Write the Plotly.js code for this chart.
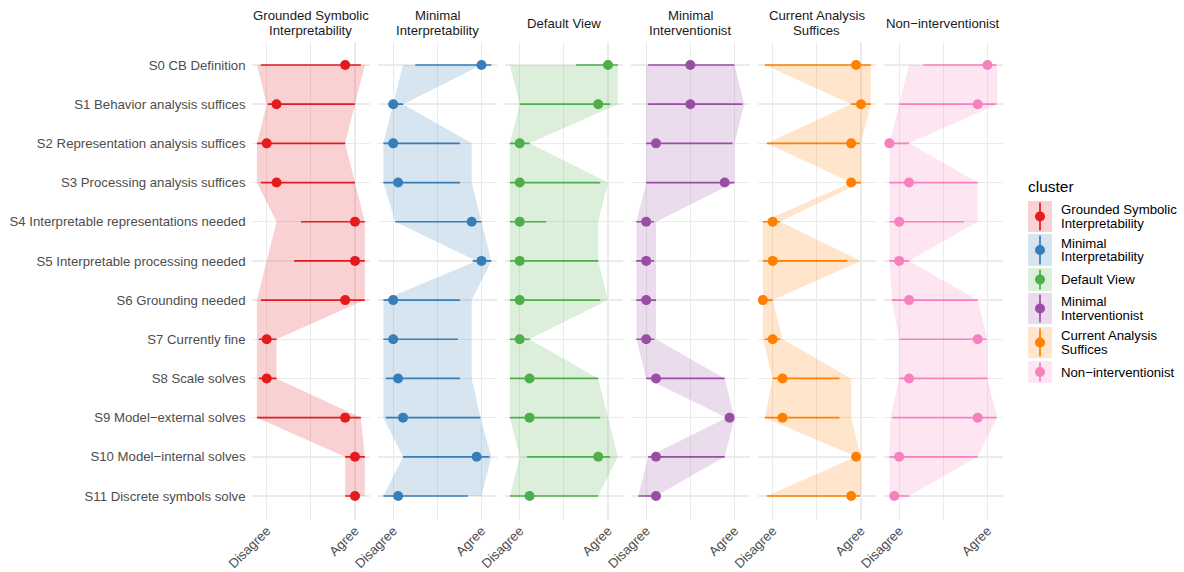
<!DOCTYPE html>
<html>
<head>
<meta charset="utf-8">
<script src="https://cdn.plot.ly/plotly-3.0.1.min.js"></script>
<style>html,body{margin:0;padding:0;background:#fff;}#chart{width:1184px;height:572px;}</style>
</head>
<body>
<div id="chart"></div>
<script>
// ---- data ----
const statements = ["S0 CB Definition", "S1 Behavior analysis suffices", "S2 Representation analysis suffices",
  "S3 Processing analysis suffices", "S4 Interpretable representations needed", "S5 Interpretable processing needed",
  "S6 Grounding needed", "S7 Currently fine", "S8 Scale solves", "S9 Model\u2212external solves",
  "S10 Model\u2212internal solves", "S11 Discrete symbols solve"];
const clusterNames = ["Grounded Symbolic Interpretability", "Minimal Interpretability", "Default View",
  "Minimal Interventionist", "Current Analysis Suffices", "Non\u2212interventionist"];
const clusterLabels = [["Grounded Symbolic", "Interpretability"], ["Minimal", "Interpretability"], ["Default View"],
  ["Minimal", "Interventionist"], ["Current Analysis", "Suffices"], ["Non\u2212interventionist"]];
const clusterColors = ["#E41A1C", "#377EB8", "#4DAF4A", "#984EA3", "#FF7F00", "#F781BF"];
const xTickVals = [0, 9];
const xTickText = ["Disagree", "Agree"];

// Grounded Symbolic Interpretability
const gsiPoint = [8, 1, 0, 1, 9, 9, 8, 0, 0, 8, 9, 9];
const gsiErrLo = [-0.6, 0.1, -1, -0.6, 3.5, 2.8, -0.6, -0.8, -0.8, -1, 8, 8];
const gsiErrHi = [9.6, 9, 8, 9, 10, 10, 10, 1, 1, 9.6, 10, 9.5];
const gsiRibLo = [-1, 0, -1, -1, 1, 0, -1, -1, -1, -1, 8, 8];
const gsiRibHi = [10, 9, 8, 9, 10, 10, 10, 1, 1, 9.6, 10, 10];
// Minimal Interpretability
const miPoint = [9, 0, 0, 0.5, 8, 9, 0, 0, 0.5, 1, 8.5, 0.5];
const miErrLo = [2.25, -0.5, -1, -1, 0.2, 8.1, -1, -1, -0.75, -0.75, 1, -1];
const miErrHi = [10, 1, 6.8, 6.8, 9, 10, 6.8, 6.6, 6.8, 8.9, 9.8, 7.6];
const miRibLo = [1, 0, -1, -1, 0.2, 8.5, -1, -1, -1, -1, 1, -1];
const miRibHi = [9, 1, 8, 8, 9, 10, 8, 8, 8, 8.9, 10, 9];
// Default View
const dvPoint = [9, 8, 0, 0, 0, 0, 0, 0, 1, 1, 8, 1];
const dvErrLo = [5.75, 0, -1, -1, -1, -1, -1, -1, -1, -1, 0.75, -1];
const dvErrHi = [10, 9.2, 1, 8.2, 2.7, 8, 8.2, 1, 8, 8.2, 9.2, 8];
const dvRibLo = [-1, 0, -1, -1, -1, -1, -1, -1, -1, -1, 0, -1];
const dvRibHi = [10, 10, 1, 9, 8, 8, 9, 1, 8, 9, 10, 8];
// Minimal Interventionist
const mintPoint = [4.5, 4.5, 1, 8, 0, 0, 0, 0, 1, 8.5, 1, 1];
const mintErrLo = [0.2, 0.2, 0, 0, -1, -1, -1, -1, 0, 8.5, 0.2, -0.8];
const mintErrHi = [9, 9.8, 8.8, 9, 0.8, 0.8, 1, 0.8, 8, 8.5, 8, 1];
const mintRibLo = [0, 0, 0, 0, -1, -1, -1, -1, 0, 8.2, 0.2, -0.8];
const mintRibHi = [9, 10, 9, 9, 1, 1, 1, 1, 8, 9, 8, 1];
// Current Analysis Suffices
const casPoint = [8.5, 9, 8, 8, 0, 0, -1, 0, 1, 1, 8.5, 8];
const casErrLo = [-0.8, 8, -0.6, 8, -1, -1, -1.4, -0.8, 0, -0.8, 8.5, -0.6];
const casErrHi = [10, 10, 8.9, 9, 0.75, 7.6, 0, 0.75, 6.8, 6.8, 8.5, 8.9];
const casRibLo = [-0.8, 8, -0.6, 8, -1, -1, -1, -1, 0, -0.8, 8.5, -0.6];
const casRibHi = [10, 10, 9, 9, 0.75, 9, 0, 1, 8, 8, 9, 9];
// Non-interventionist
const niPoint = [9, 8, -1, 1, 0, 0, 1, 8, 1, 8, 0, -0.5];
const niErrLo = [2.45, 0, -1, -1, -1, -1, -0.75, 0, 0, -0.7, -1, -1];
const niErrHi = [9.9, 9.9, 1, 8, 6.6, 1, 8, 8.85, 9, 9.9, 8, 1];
const niRibLo = [1, 0, -1, -1, -1, -1, -0.75, 0, 0, -0.9, -1, -1];
const niRibHi = [10, 10, 1, 8, 8, 1, 8, 9, 9, 10, 8, 1];

const series = [
  {point: gsiPoint, lo: gsiErrLo, hi: gsiErrHi, rlo: gsiRibLo, rhi: gsiRibHi},
  {point: miPoint, lo: miErrLo, hi: miErrHi, rlo: miRibLo, rhi: miRibHi},
  {point: dvPoint, lo: dvErrLo, hi: dvErrHi, rlo: dvRibLo, rhi: dvRibHi},
  {point: mintPoint, lo: mintErrLo, hi: mintErrHi, rlo: mintRibLo, rhi: mintRibHi},
  {point: casPoint, lo: casErrLo, hi: casErrHi, rlo: casRibLo, rhi: casRibHi},
  {point: niPoint, lo: niErrLo, hi: niErrHi, rlo: niRibLo, rhi: niRibHi}
];

// ---- layout helpers ----
const W = 1184, H = 572;
const fx = px => px / W;
const fy = py => 1 - py / H;
const FONT = '"Liberation Sans", Arial, Helvetica, sans-serif';
const FS = 13.2;
const GRID = '#EBEBEB';
function rgba(hex, a) {
  const r = parseInt(hex.slice(1, 3), 16), g = parseInt(hex.slice(3, 5), 16), b = parseInt(hex.slice(5, 7), 16);
  return `rgba(${r},${g},${b},${a})`;
}

const panelLeft0 = 251.5, panelStep = 126.5, panelW = 118.7;
const panelTop = 41.5, panelBottom = 519.5;

const traces = [];
const layout = {
  width: W, height: H,
  margin: {l: 0, r: 0, t: 0, b: 0},
  paper_bgcolor: '#fff', plot_bgcolor: '#fff',
  showlegend: false,
  font: {family: FONT, color: '#1A1A1A'},
  annotations: [], shapes: []
};

function addLines(lines, xpx, centerPy, spacing, anchor, font) {
  const n = lines.length;
  lines.forEach((ln, k) => {
    const py = centerPy + (k - (n - 1) / 2) * spacing;
    layout.annotations.push({
      xref: 'paper', yref: 'paper', x: fx(xpx), y: fy(py), xanchor: anchor, yanchor: 'middle',
      showarrow: false, text: ln, font: font
    });
  });
}

series.forEach((s, i) => {
  const xa = i === 0 ? 'x' : 'x' + (i + 1);
  const ya = i === 0 ? 'y' : 'y' + (i + 1);
  const col = clusterColors[i];
  // ribbon
  traces.push({
    type: 'scatter', mode: 'lines', xaxis: xa, yaxis: ya,
    x: s.rlo.concat(s.rhi.slice().reverse()),
    y: statements.concat(statements.slice().reverse()),
    fill: 'toself', fillcolor: rgba(col, 0.2), line: {width: 0, color: 'rgba(0,0,0,0)'},
    hoverinfo: 'skip'
  });
  // pointrange
  traces.push({
    type: 'scatter', mode: 'markers', xaxis: xa, yaxis: ya,
    x: s.point, y: statements,
    marker: {color: col, size: 10, line: {width: 0}},
    error_x: {
      type: 'data', symmetric: false,
      array: s.hi.map((h, k) => h - s.point[k]),
      arrayminus: s.lo.map((l, k) => s.point[k] - l),
      color: col, thickness: 1.7, width: 0
    }
  });
  const left = panelLeft0 + panelStep * i;
  layout[i === 0 ? 'xaxis' : 'xaxis' + (i + 1)] = {
    domain: [fx(left), fx(left + panelW)],
    range: [-1.55, 10.55],
    anchor: ya,
    tickmode: 'array', tickvals: xTickVals, ticktext: xTickText,
    tickangle: -45, ticks: '',
    tickfont: {family: FONT, size: FS, color: '#4D4D4D'},
    showgrid: true, gridcolor: GRID, gridwidth: 1.4,
    minor: {tickmode: 'array', tickvals: [4.5], showgrid: true, gridcolor: GRID, gridwidth: 1.0, ticks: ''},
    zeroline: false, showline: false, fixedrange: true, automargin: false
  };
  layout[i === 0 ? 'yaxis' : 'yaxis' + (i + 1)] = {
    domain: [fy(panelBottom), fy(panelTop)],
    type: 'category', categoryorder: 'array', categoryarray: statements,
    range: [11.6, -0.6],
    anchor: xa,
    showticklabels: i === 0, ticks: '', ticklabelstandoff: 5,
    tickfont: {family: FONT, size: FS, color: '#4D4D4D'},
    showgrid: true, gridcolor: GRID, gridwidth: 1.4,
    zeroline: false, showline: false, fixedrange: true, automargin: false
  };
  // strip title
  addLines(clusterLabels[i], left + panelW / 2, 23, 14.3, 'center', {family: FONT, size: FS, color: '#1A1A1A'});
});

// ---- legend (drawn manually) ----
layout.annotations.push({
  xref: 'paper', yref: 'paper', x: fx(1026), y: fy(186), xanchor: 'left', yanchor: 'middle',
  showarrow: false, text: 'cluster', font: {family: FONT, size: 15.5, color: '#000'}
});
const keyTops = [201, 234, 268, 293, 327, 361];
const keyBottoms = [232, 266, 291, 324, 358, 383];
const keyX0 = 1028, keyX1 = 1052;
clusterLabels.forEach((lab, i) => {
  const col = clusterColors[i];
  const t = keyTops[i], b = keyBottoms[i], c = (t + b) / 2, cx = (keyX0 + keyX1) / 2;
  layout.shapes.push({type: 'rect', xref: 'paper', yref: 'paper', x0: fx(keyX0), x1: fx(keyX1), y0: fy(b), y1: fy(t),
    fillcolor: rgba(col, 0.2), line: {width: 0}, layer: 'above'});
  layout.shapes.push({type: 'line', xref: 'paper', yref: 'paper', x0: fx(cx), x1: fx(cx), y0: fy(b - 1.5), y1: fy(t + 1.5),
    line: {color: col, width: 1.7}, layer: 'above'});
  layout.shapes.push({type: 'circle', xref: 'paper', yref: 'paper', x0: fx(cx - 5), x1: fx(cx + 5), y0: fy(c + 5), y1: fy(c - 5),
    fillcolor: col, line: {width: 0}, layer: 'above'});
  addLines(lab, 1059, c, 13.3, 'left', {family: FONT, size: FS, color: '#000'});
});

Plotly.newPlot('chart', traces, layout, {displayModeBar: false, staticPlot: true});
</script>
</body>
</html>
